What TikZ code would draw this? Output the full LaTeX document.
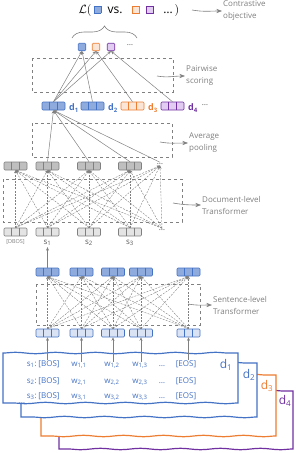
\documentclass[tikz,border=0pt]{standalone}
\usepackage{fontspec}
\setmainfont{Open Sans}
\usepackage{amsmath, amssymb}
\usepackage{tikz}
\usetikzlibrary{arrows.meta, positioning, calc, decorations.pathreplacing, decorations.pathmorphing}

\definecolor{blueB}{HTML}{4472C4}
\definecolor{blueD}{HTML}{8FAADC}
\definecolor{blueL}{HTML}{DAE3F3}
\definecolor{greyB}{HTML}{808080}
\definecolor{greyD}{HTML}{BFBFBF}
\definecolor{greyL}{HTML}{E4E4E4}
\definecolor{orangeB}{HTML}{ED7D31}
\definecolor{orangeL}{HTML}{FBE5D6}
\definecolor{purpleB}{HTML}{7030A0}
\definecolor{purpleL}{HTML}{E2CCF2}
\definecolor{textG}{HTML}{7F7F7F}
\definecolor{darkG}{HTML}{595959}

% dividers of a 3-cell vector
\newcommand{\cells}[2]{%
  \draw[#2, line width=0.6pt] ($(#1.north west)!1/3!(#1.north east)$) -- ($(#1.south west)!1/3!(#1.south east)$)
    ($(#1.north west)!2/3!(#1.north east)$) -- ($(#1.south west)!2/3!(#1.south east)$);}
% small square inside text
\newcommand{\sqb}[2]{{\fboxsep=0pt\fboxrule=0.7pt\fcolorbox{#2}{#1}{\rule{0pt}{6.5pt}\hspace{6.5pt}}}}

\begin{document}
\begin{tikzpicture}[x=1pt, y=-1pt, >=Stealth,
  every node/.style={font=\fontsize{8}{12}\selectfont},
  vec/.style={draw, rounded corners=1pt, minimum width=23pt, minimum height=8pt, inner sep=0pt, line width=0.6pt},
  sq/.style={draw, rounded corners=1pt, minimum size=7.5pt, inner sep=0pt, line width=0.6pt},
  attn/.style={->, gray, line width=0.4pt, dash pattern=on 2pt off 1.2pt, >={Stealth[length=3pt,width=3pt]}},
  flow/.style={->, gray, line width=0.5pt, >={Stealth[length=3.5pt,width=3pt]}},
  tbox/.style={draw=gray, dashed, line width=0.6pt},
  side/.style={->, textG, line width=0.6pt},
  sidetext/.style={anchor=west, align=left, text=textG, inner sep=1pt},
  doctext/.style={anchor=base, text=blueB, inner sep=0pt},
  frame/.style={line width=1.2pt, fill=white, decoration={snake, amplitude=0.7pt, segment length=40pt}}]

  \useasboundingbox (0,0) rectangle (295,453);

  % Documents
  \draw[frame, draw=purpleB] (59,391) decorate{-- (293,391)} -- (293,449) decorate{-- (59,449)} -- cycle;
  \draw[frame, draw=orangeB] (41,375) decorate{-- (276,375)} -- (276,436) decorate{-- (41,436)} -- cycle;
  \draw[frame, draw=blueB] (21,363) decorate{-- (257,363)} -- (257,417) decorate{-- (21,417)} -- cycle;
  \draw[frame, draw=blueB] (3,353) decorate{-- (238,353)} -- (238,403) decorate{-- (3,403)} -- cycle;
  \node[text=blueB, font=\fontsize{12}{14}\selectfont] (dl1) at (226,365) {d\textsubscript{1}};
  \node[text=blueB, font=\fontsize{12}{14}\selectfont] (dl2) at (249,375) {d\textsubscript{2}};
  \node[text=orangeB, font=\fontsize{12}{14}\selectfont] (dl3) at (267,386) {d\textsubscript{3}};
  \node[text=purpleB, font=\fontsize{12}{14}\selectfont] (dl4) at (285,401) {d\textsubscript{4}};

  % Sentences of d1
  \foreach \r/\y in {1/366, 2/383, 3/398} {
    \node[doctext, anchor=base east] (s\r) at (37,\y) {s\textsubscript{\r}:};
    \node[doctext] (b\r) at (49,\y) {[BOS]};
    \node[doctext] (w\r1) at (79,\y) {w\textsubscript{\r,1}};
    \node[doctext] (w\r2) at (112,\y) {w\textsubscript{\r,2}};
    \node[doctext] (w\r3) at (140,\y) {w\textsubscript{\r,3}};
    \node[doctext] (m\r) at (162,\y) {\ldots};
    \node[doctext] (e\r) at (186,\y) {[EOS]};
  }
  \node[doctext] (sdots) at (22,403) {\ldots};

  % Sentence-level Transformer
  \foreach \n/\x in {1/47.5, 2/81.5, 3/113, 4/141, 5/188.5} {
    \node[vec, fill=blueL, draw=blueB] (t\n) at (\x,333) {};
    \cells{t\n}{blueB}
    \node[vec, fill=blueD, draw=blueB] (u\n) at (\x,272) {};
    \cells{u\n}{blueB}
  }
  \draw[tbox] (36,284) rectangle (200,325);
  \foreach \i in {1,...,5}
    \foreach \j in {1,...,5}
      \draw[attn] (t\i.north) -- (u\j.south);
  \draw[flow] (b1.north -| t1) -- (t1.south);
  \draw[flow] (w11.north -| t2) -- (t2.south);
  \draw[flow] (w12.north -| t3) -- (t3.south);
  \draw[flow] (w13.north -| t4) -- (t4.south);
  \draw[flow] (e1.north -| t5) -- (t5.south);
  \coordinate (sa) at (188,304);
  \node[sidetext] (sent) at (212,305) {Sentence-level\\Transformer};
  \draw[side] (sa) to[out=-10, in=180] (sent.west);

  % Document-level Transformer
  \foreach \n/\x in {1/15.5, 2/47.5, 3/89, 4/130} {
    \node[vec, fill=greyL, draw=greyB] (c\n) at (\x,232) {};
    \cells{c\n}{greyB}
    \node[vec, fill=greyD, draw=greyB] (g\n) at (\x,166) {};
    \cells{g\n}{greyB}
  }
  \node[text=darkG, inner sep=1pt] (c5) at (162,230) {\ldots};
  \node[text=darkG, inner sep=1pt] (g5) at (160,164) {\ldots};
  \draw[tbox] (3,179) rectangle (182,222);
  \foreach \i in {1,...,5}
    \foreach \j in {1,...,5}
      \draw[attn] (c\i.north) -- (g\j.south);
  \node[text=textG, font=\fontsize{5.5}{6}\selectfont, inner sep=1pt] (l0) at (15.5,242) {[DBOS]};
  \node[text=darkG, inner sep=1pt] (l1) at (47.5,243) {s\textsubscript{1}};
  \node[text=darkG, inner sep=1pt] (l2) at (89,243) {s\textsubscript{2}};
  \node[text=darkG, inner sep=1pt] (l3) at (130,243) {s\textsubscript{3}};
  \draw[flow] (u1.north) -- (l1.south);
  \coordinate (da) at (173,203);
  \node[sidetext] (doct) at (201,205) {Document-level\\Transformer};
  \draw[side] (da) to[out=-10, in=180] (doct.west);

  % Average pooling
  \foreach \n/\x/\f/\b in {1/53.5/blueD/blueB, 2/92.5/blueD/blueB, 3/132.5/orangeL/orangeB, 4/172.5/purpleL/purpleB} {
    \node[vec, fill=\f, draw=\b] (p\n) at (\x,106) {};
    \cells{p\n}{\b}
    \node[text=\b, font=\bfseries\fontsize{9}{10}\selectfont, inner sep=0pt] (pl\n) at (\x+20.5,108) {d\textsubscript{\n}};
  }
  \node[text=darkG, inner sep=1pt] (pdots) at (205,105) {\ldots};
  \draw[tbox] (32,123) rectangle (172,157);
  \foreach \n in {2,...,5}
    \draw[flow] (g\n.north) -- (p1.south);
  \coordinate (aa) at (160,142);
  \node[sidetext] (avg) at (188,143) {Average\\pooling};
  \draw[side] (aa) to[out=-10, in=180] (avg.west);

  % Pairwise scoring
  \node[sq, fill=blueD, draw=blueB] (q1) at (82,47) {};
  \node[sq, fill=orangeL, draw=orangeB] (q2) at (96,47) {};
  \node[sq, fill=purpleL, draw=purpleB] (q3) at (111,47) {};
  \node[text=darkG, inner sep=1pt] (q4) at (130,45) {\ldots};
  \draw[tbox] (32,58) rectangle (173,92);
  \foreach \n in {1,2,3}
    \draw[flow] (p1.north) -- (q\n.south);
  \draw[flow] (p2.north) -- (q1.south);
  \draw[flow] (p3.north) -- (q2.south);
  \draw[flow] (p4.north) -- (q3.south);
  \coordinate (pa) at (157,76);
  \node[sidetext] (pair) at (185,76) {Pairwise\\scoring};
  \draw[side] (pa) to[out=-10, in=180] (pair.west);

  % Contrastive objective
  \draw[greyB, line width=0.6pt, decorate, decoration={brace, amplitude=12pt}] (72,38) -- (137,38);
  \node[font=\fontsize{12}{14}\selectfont, inner sep=0pt] (loss) at (129,10)
    {$\mathcal{L}($\,\sqb{blueD}{blueB}\ \ vs.\ \ \ \sqb{orangeL}{orangeB}\ \ \sqb{purpleL}{purpleB}\ \ \ \ldots\,$)$};
  \coordinate (la) at (192,10);
  \node[sidetext] (contr) at (222,11) {Contrastive\\objective};
  \draw[side] (la) to[out=-10, in=180] (contr.west);
\end{tikzpicture}
\end{document}
